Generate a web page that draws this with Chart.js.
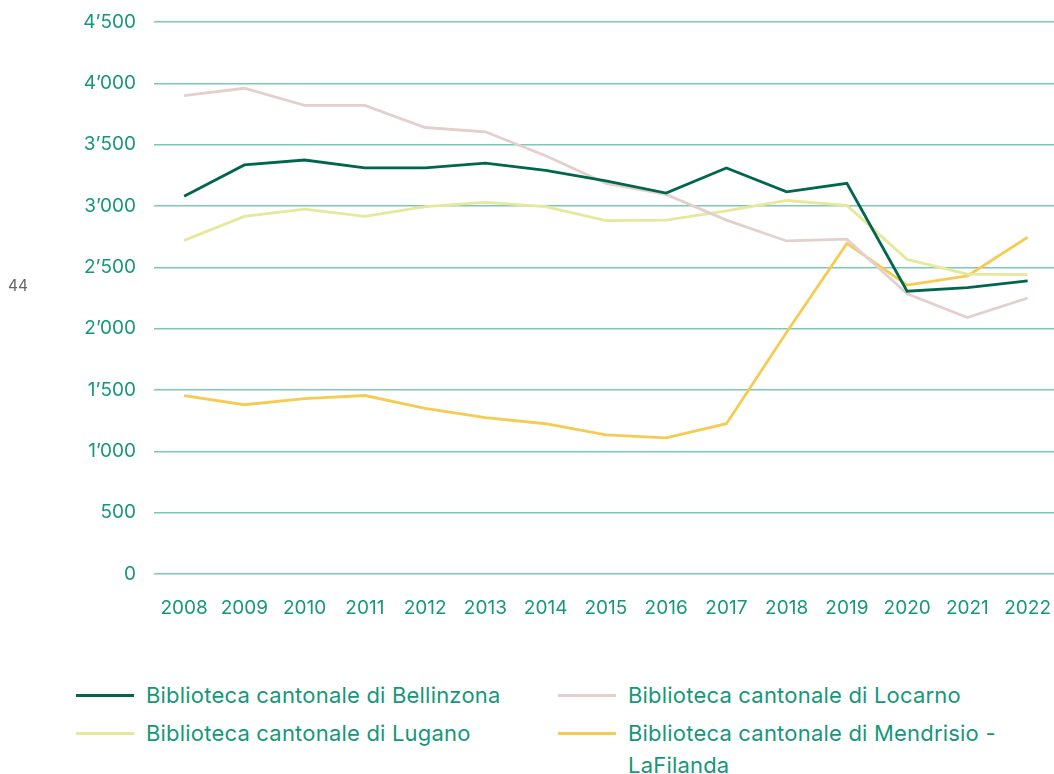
<!DOCTYPE html>
<html>
<head>
<meta charset="utf-8">
<script src="https://cdn.jsdelivr.net/npm/chart.js@4"></script>
<style>
  html, body { margin: 0; padding: 0; background: #fff; overflow: hidden; width: 1054px; height: 774px; }
  #wrap { position: absolute; left: 0; top: 0; width: 1054px; height: 650px; overflow: hidden; }
  #page { position: absolute; left: 8px; top: 276px; font: 15.5px Inter, sans-serif; color: #666; }
  .item { position: absolute; font: 22px Inter, sans-serif; letter-spacing: 0.2px; color: #16977a; line-height: 32px; }
  .item .sw { position: absolute; left: -70px; top: 15px; width: 58px; height: 3px; }
  .item .tx { display: block; width: 390px; }
</style>
</head>
<body>
<div id="wrap"><canvas id="libChart" width="1059" height="650"></canvas></div>
<div id="page">44</div>
<div id="legend"></div>
<script>
// Data
const years = ["2008","2009","2010","2011","2012","2013","2014","2015","2016","2017","2018","2019","2020","2021","2022"];
const bellinzona = [3080,3335,3375,3310,3310,3350,3290,3205,3105,3310,3115,3185,2305,2335,2390];
const locarno = [3900,3960,3820,3820,3640,3605,3410,3185,3095,2885,2715,2730,2285,2090,2250];
const lugano = [2720,2915,2975,2915,2995,3030,2995,2880,2885,2960,3045,3005,2565,2445,2440];
const mendrisio = [1455,1380,1430,1455,1350,1275,1225,1135,1110,1225,1970,2695,2355,2430,2745];
const seriesNames = ["Biblioteca cantonale di Bellinzona","Biblioteca cantonale di Locarno","Biblioteca cantonale di Lugano","Biblioteca cantonale di Mendrisio - LaFilanda"];
const seriesColors = ["#00674c","#e3d0cd","#e6e89b","#f6cb53"];

const teal = "#16977a";
const fmt = v => v >= 1000 ? Math.floor(v / 1000) + "\u2019" + String(v % 1000).padStart(3, "0") : String(v);

new Chart(document.getElementById("libChart"), {
    type: "line",
    data: {
        labels: years,
        datasets: [bellinzona, locarno, lugano, mendrisio].map((d, i) => ({
            label: seriesNames[i],
            data: d,
            borderColor: seriesColors[i],
            borderWidth: 2.8,
            pointRadius: 0,
            tension: 0,
            order: i === 0 ? 0 : 1
        }))
    },
    options: {
        responsive: false,
        animation: false,
        layout: { padding: { top: 22, right: 0, left: 0, bottom: 0 } },
        plugins: { legend: { display: false }, tooltip: { enabled: false } },
        scales: {
            x: {
                offset: true,
                grid: { display: true, drawOnChartArea: false, drawTicks: true, tickLength: 15, tickColor: "rgba(0,0,0,0)" },
                border: { display: false },
                ticks: { color: teal, font: { family: "Inter", size: 19 }, padding: 8, maxRotation: 0 },
                afterFit: s => { s.height = 76; }
            },
            y: {
                min: 0, max: 4500,
                grid: { color: "#7cc8b6", lineWidth: 1.5, drawTicks: true, tickLength: 15, tickColor: "rgba(0,0,0,0)" },
                border: { display: false },
                ticks: { stepSize: 500, color: teal, font: { family: "Inter", size: 19 }, padding: 3, callback: v => fmt(v) },
                afterFit: s => { s.width = 154; }
            }
        }
    }
});

// HTML legend, two columns
const pos = [[146,679],[628,679],[146,717],[628,717]];
const leg = document.getElementById("legend");
seriesNames.forEach((name, i) => {
    const el = document.createElement("div");
    el.className = "item";
    el.style.left = pos[i][0] + "px";
    el.style.top = pos[i][1] + "px";
    el.innerHTML = '<span class="sw" style="background:' + seriesColors[i] + '"></span><span class="tx">' + name + '</span>';
    leg.appendChild(el);
});
</script>
</body>
</html>
